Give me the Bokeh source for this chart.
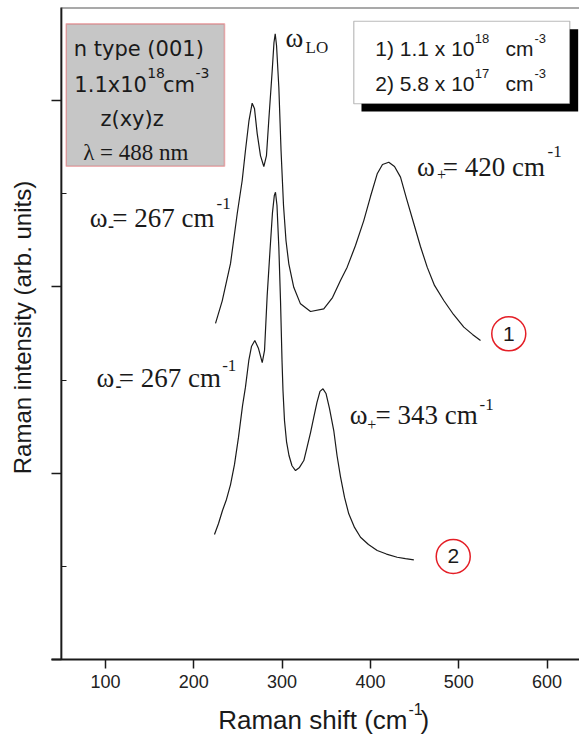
from math import pi
from bokeh.plotting import figure
from bokeh.models import Label, BoxAnnotation, FixedTicker, Range1d
from bokeh.core.properties import value
from bokeh.embed import file_html
from bokeh.resources import INLINE

# ---- data (Raman shift in cm^-1, intensity in arb. units) ----
shift_1 = [224.6, 232.2, 241.6, 249.2, 254.8, 258.5, 262.5, 266.1, 268.7, 271.8,
           275.5, 279.3, 282.3, 284.9, 288.8, 290.8, 292.2, 293.7, 296.3, 298.8,
           301.6, 304.4, 307.6, 313.2, 320.8, 332.2, 347.2, 357.1, 366.1, 373.7,
           383.1, 392.5, 400.1, 407.7, 413.7, 420.8, 427.3, 434.1, 440.9, 449.2,
           456.7, 464.3, 472.6, 483.1, 494.1, 505.8, 515.6, 524.7]
intensity_1 = [1.804, 1.925, 2.126, 2.394, 2.571, 2.732, 2.893, 2.986, 2.958, 2.823,
               2.705, 2.646, 2.705, 2.893, 3.162, 3.312, 3.359, 3.296, 3.072, 2.732,
               2.437, 2.249, 2.124, 1.998, 1.909, 1.868, 1.882, 1.943, 2.034, 2.106,
               2.222, 2.356, 2.485, 2.607, 2.657, 2.669, 2.646, 2.589, 2.474, 2.339,
               2.217, 2.106, 2.008, 1.927, 1.852, 1.784, 1.745, 1.712]

shift_2 = [223.4, 228.0, 232.5, 237.0, 241.6, 246.1, 250.6, 255.2, 258.5, 262.3,
           265.3, 269.1, 273.3, 277.5, 280.1, 283.1, 286.3, 289.1, 291.2, 292.5,
           294.2, 296.3, 298.2, 299.9, 301.0, 302.7, 305.0, 307.8, 311.2, 315.2,
           319.7, 324.6, 328.3, 332.2, 335.9, 339.5, 342.9, 346.3, 349.7, 353.7,
           358.5, 362.2, 366.1, 370.7, 375.5, 382.0, 388.8, 397.8, 407.7, 418.2,
           430.3, 439.7, 449.2]
intensity_2 = [0.671, 0.730, 0.800, 0.859, 0.939, 1.047, 1.192, 1.363, 1.462, 1.605,
               1.680, 1.712, 1.669, 1.594, 1.659, 1.954, 2.195, 2.399, 2.491, 2.508,
               2.437, 2.213, 1.927, 1.605, 1.444, 1.283, 1.170, 1.095, 1.040, 1.014,
               1.031, 1.068, 1.140, 1.218, 1.301, 1.380, 1.439, 1.453, 1.428, 1.347,
               1.229, 1.095, 0.982, 0.870, 0.782, 0.709, 0.656, 0.617, 0.585, 0.566,
               0.549, 0.541, 0.535]

x_ticks = [100, 200, 300, 400, 500, 600]
y_major_ticks = [0, 1, 2, 3]
y_minor_ticks = [0.5, 1.5, 2.5]

curve_tags = ["1", "2"]
curve_tag_x = [556.7, 493.8]
curve_tag_y = [1.748, 0.553]

# axes extents (data units)
X_AXIS_AT = 0.0      # y position of the x axis
Y_AXIS_AT = 50.0     # x position of the y axis
X_LEFT = 38.85       # x axis line starts here
Y_TOP = 3.4997       # top frame line

PX_X = 1 / 0.883     # one pixel in x data units
PX_Y = 1 / 186.3     # one pixel in y data units
BASELINE_FIX = 7 * PX_Y

# ---- figure (frame = whole canvas, axes placed at fixed locations) ----
p = figure(width=579, height=734, output_backend="svg", toolbar_location=None,
           x_range=Range1d(-18.91, 636.8), y_range=Range1d(-0.4026, 3.5373),
           min_border_left=0, min_border_right=0, min_border_top=0,
           min_border_bottom=0)
p.grid.visible = False
p.outline_line_color = None
p.background_fill_color = "white"
p.border_fill_color = "white"

INK = "#1a1a1a"
RED = "#e41e26"

xa = p.xaxis[0]
xa.fixed_location = X_AXIS_AT
xa.ticker = FixedTicker(ticks=x_ticks)
xa.major_tick_out = 9
xa.major_tick_in = 0
xa.minor_tick_out = 0
xa.minor_tick_in = 0
xa.axis_line_color = None
xa.major_tick_line_width = 1.5
xa.major_tick_line_color = INK
xa.major_label_text_font = "Liberation Sans"
xa.major_label_text_font_size = "18px"
xa.major_label_text_color = "#222222"
xa.major_label_standoff = 7

ya = p.yaxis[0]
ya.fixed_location = Y_AXIS_AT
ya.ticker = FixedTicker(ticks=y_major_ticks, minor_ticks=y_minor_ticks)
ya.major_tick_out = 10
ya.major_tick_in = 0
ya.minor_tick_out = 0
ya.minor_tick_in = 5
ya.axis_line_color = None
ya.major_tick_line_width = 1.5
ya.major_tick_line_color = INK
ya.minor_tick_line_width = 1.2
ya.minor_tick_line_color = INK
ya.major_label_text_color = None

# axis lines and top frame line
p.add_layout(BoxAnnotation(left=X_LEFT, bottom=X_AXIS_AT - PX_Y, top=X_AXIS_AT + PX_Y,
                           fill_color=INK, fill_alpha=1, line_color=None))
p.add_layout(BoxAnnotation(left=Y_AXIS_AT - PX_X, right=Y_AXIS_AT + PX_X,
                           bottom=X_AXIS_AT, top=Y_TOP,
                           fill_color=INK, fill_alpha=1, line_color=None))
p.add_layout(BoxAnnotation(left=Y_AXIS_AT, bottom=Y_TOP - PX_Y, top=Y_TOP,
                           fill_color="#555555", fill_alpha=1, line_color=None))

# spectra
p.line(shift_1, intensity_1, line_color=INK, line_width=1.2)
p.line(shift_2, intensity_2, line_color=INK, line_width=1.2)

# info box (gray) and legend box with shadow
p.add_layout(BoxAnnotation(left=55.5, right=234.8, bottom=2.648, top=3.412,
                           fill_color="#c6c6c6", fill_alpha=1,
                           line_color=RED, line_width=1.6))
p.add_layout(BoxAnnotation(left=389.9, right=635.3, bottom=2.942, top=3.383,
                           fill_color="black", fill_alpha=1, line_color=None))
p.add_layout(BoxAnnotation(left=381.2, right=625.8, bottom=2.983, top=3.426,
                           fill_color="white", fill_alpha=1,
                           line_color=INK, line_width=1.2))


def lab(x, y, text, font="Liberation Serif", size=27, **kw):
    opts = dict(text_baseline="alphabetic", text_align="left")
    opts.update(kw)
    if opts["text_baseline"] == "alphabetic":
        y = y + BASELINE_FIX
    p.add_layout(Label(x=x, y=y, text=text, text_font=font,
                       text_font_size=f"{size}px", text_color=INK, **opts))


SANS = "Liberation Sans"
WIDE = "DejaVu Sans"
R = dict(text_align="right")

# gray box text
lab(64.1, 3.242, "n type (001)", WIDE, 21)
lab(146.9, 3.045, "1.1x10", WIDE, 21, **R)
lab(147.2, 3.108, "18", WIDE, 14)
lab(201.3, 3.045, "cm", WIDE, 21, **R)
lab(201.9, 3.108, "-3", WIDE, 14)
lab(94.3, 2.866, "z(xy)z", WIDE, 21)
lab(74.7, 2.682, "λ = 488 nm", "Liberation Serif", 23)

# legend text
lab(517.9, 3.242, "1) 1.1 x 10", SANS, 21, **R)
lab(518.2, 3.296, "18", SANS, 13)
lab(584.7, 3.242, "cm", SANS, 21, **R)
lab(585.8, 3.296, "-3", SANS, 13)
lab(517.9, 3.054, "2) 5.8 x 10", SANS, 21, **R)
lab(518.2, 3.108, "17", SANS, 13)
lab(584.7, 3.054, "cm", SANS, 21, **R)
lab(585.8, 3.108, "-3", SANS, 13)

# peak annotations
lab(303.9, 3.296, "ω", size=27)
lab(326.5, 3.247, "LO", size=17)

lab(452.9, 2.607, "ω", size=27)
lab(475.5, 2.566, "+", size=16)
lab(482.0, 2.607, "= 420 cm", size=27)
lab(600.6, 2.688, "-1", size=17)

lab(376.7, 1.274, "ω", size=27)
lab(396.3, 1.224, "+", size=16)
lab(405.8, 1.274, "= 343 cm", size=27)
lab(523.6, 1.331, "-1", size=17)

lab(82.2, 2.330, "ω", size=27)
lab(102.8, 2.290, "-", size=18, text_font_style="bold")
lab(107.6, 2.330, "= 267 cm", size=27)
lab(225.7, 2.410, "-1", size=17)

lab(89.8, 1.471, "ω", size=27)
lab(111.3, 1.433, "-", size=18, text_font_style="bold")
lab(115.1, 1.471, "= 267 cm", size=27)
lab(232.1, 1.542, "-1", size=17)

# curve number tags
p.scatter(curve_tag_x, curve_tag_y, marker="circle", size=34, fill_color="white",
          line_color=RED, line_width=1.5)
p.text(curve_tag_x, curve_tag_y, text=curve_tags, text_align="center",
       text_baseline="middle", text_font=value(SANS), text_font_size="21px",
       text_color=INK)

# axis titles
lab(6.0, 1.782, "Raman intensity (arb. units)", SANS, 24, angle=pi / 2,
    text_align="center", text_baseline="middle")
lab(442.0, -0.360, "Raman shift (cm", SANS, 26, **R)
lab(443.1, -0.301, "-1", SANS, 16)
lab(456.7, -0.360, ")", SANS, 26)

open("out.html", "w").write(file_html(p, INLINE))
